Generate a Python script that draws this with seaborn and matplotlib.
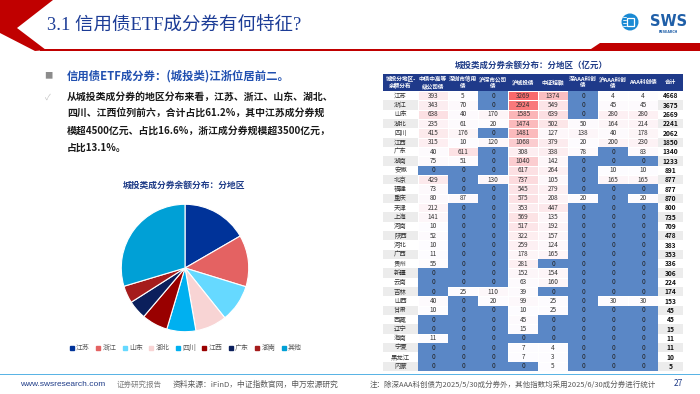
import numpy as np
import pandas as pd
import matplotlib
matplotlib.use("Agg")
import matplotlib.pyplot as plt
import seaborn as sns
from matplotlib.colors import LinearSegmentedColormap, ListedColormap
from matplotlib.patches import Polygon, Rectangle, Circle
from matplotlib.lines import Line2D

sns.set_style("white")
plt.rcParams['font.family'] = ['Noto Sans CJK SC', 'DejaVu Sans']

W, H = 700, 394

# ---- pie data ----
pie_labels = ['江苏', '浙江', '山东', '湖北', '四川', '江西', '广东', '湖南', '其他']
pie_values = [4668, 3675, 2669, 2241, 2062, 1850, 1340, 1233, 8308]
pie_colors = ['#003399', '#e46262', '#66d9ff', '#f8d4d4', '#00b0f0',
              '#990000', '#0b1f5c', '#a51c1c', '#00a0d6']

# ---- table data (亿元) ----
regions = ['江苏', '浙江', '山东', '湖北', '四川', '江西', '广东', '湖南', '安徽', '北京',
           '福建', '重庆', '天津', '上海', '河南', '陕西', '河北', '广西', '贵州', '新疆',
           '云南', '吉林', '山西', '甘肃', '西藏', '辽宁', '海南', '宁夏', '黑龙江', '内蒙']
zz_gsz = [393, 343, 638, 235, 415, 315, 40, 75, 0, 429, 73, 80, 212, 141, 10, 52, 10, 11, 55, 0,
          0, 0, 40, 10, 0, 0, 11, 0, 0, 0]
sz_xyz = [5, 70, 40, 61, 176, 10, 611, 51, 0, 0, 0, 87, 0, 0, 0, 0, 0, 0, 0, 0,
          0, 25, 0, 0, 0, 0, 0, 0, 0, 0]
hs_gsz = [0, 0, 170, 20, 0, 120, 0, 0, 0, 130, 0, 0, 0, 0, 0, 0, 0, 0, 0, 0,
          0, 110, 20, 0, 0, 0, 0, 0, 0, 0]
h_ctz = [3269, 2924, 1585, 1474, 1481, 1068, 308, 1040, 617, 737, 545, 575, 353, 569, 517, 322,
         259, 178, 281, 152, 63, 39, 99, 10, 45, 15, 0, 7, 7, 0]
zz_dr = [1374, 549, 639, 502, 127, 379, 338, 142, 264, 105, 279, 208, 447, 135, 192, 157,
         124, 165, 0, 154, 160, 0, 25, 25, 0, 0, 0, 4, 3, 5]
s_aaa = [0, 0, 0, 50, 138, 20, 78, 0, 0, 0, 0, 20, 0, 0, 0, 0, 0, 0, 0, 0,
         0, 0, 0, 0, 0, 0, 0, 0, 0, 0]
h_aaa = [4, 45, 280, 164, 40, 200, 0, 0, 10, 165, 0, 0, 0, 0, 0, 0, 0, 0, 0, 0,
         0, 0, 30, 0, 0, 0, 0, 0, 0, 0]
aaa = [4, 45, 280, 214, 178, 230, 83, 0, 10, 165, 0, 20, 0, 0, 0, 0, 0, 0, 0, 0,
       0, 0, 30, 0, 0, 0, 0, 0, 0, 0]
totals = [4668, 3675, 2669, 2241, 2062, 1850, 1340, 1233, 891, 877, 877, 870, 800, 735, 709,
          478, 383, 353, 336, 306, 224, 174, 153, 45, 45, 15, 11, 11, 10, 5]
header = ['城投分地区-\n余额分布', '中债中高等\n级公司债', '深圳市信用\n债', '沪深市公司\n债',
          '沪城投债', '中证短融', '深AAA科创\n债', '沪AAA科创\n债', 'AAA科创债', '合计']

df = pd.DataFrame({'a': zz_gsz, 'b': sz_xyz, 'c': hs_gsz, 'd': h_ctz,
                   'e': zz_dr, 'f': s_aaa, 'g': h_aaa, 'h': aaa}, index=regions)


def px_rect(x0, y0, x1, y1):
    return [x0 / W, 1 - y1 / H, (x1 - x0) / W, (y1 - y0) / H]


fig = plt.figure(figsize=(7, 3.94), dpi=100)

# background / decoration layer in pixel coords
bg = fig.add_axes([0, 0, 1, 1])
bg.set_xlim(0, W)
bg.set_ylim(H, 0)
bg.axis('off')

red = '#c00000'
bg.add_patch(Polygon([(0, 0), (53, 0), (17, 28), (46, 50), (35, 51), (0, 33)], color=red, lw=0))
bg.add_patch(Rectangle((40, 49), 660, 2, color=red, lw=0))
bg.add_patch(Polygon([(588, 51), (600, 43), (700, 43), (700, 51)], color=red, lw=0))
bg.text(47, 25, '3.1 信用债ETF成分券有何特征?', fontsize=13.3, color='#1c3c96', va='center',
        family=['Liberation Serif', 'Noto Sans CJK SC'])

# logo
bg.add_patch(Circle((630, 22), 8.5, color='#1a8ad4', lw=0))
bg.add_patch(Rectangle((627, 18), 7, 8, fill=False, ec='white', lw=0.9))
for yy in [17, 20, 23, 26]:
    bg.plot([622.5, 626], [yy, yy], color='white', lw=0.6)
bg.text(650, 21, 'SWS', fontsize=10.5, fontweight='bold', color='#1f5fa8', va='center',
        family='DejaVu Sans')
bg.text(668, 31.5, 'RESEARCH', fontsize=2.3, fontweight='bold', color='#1f5fa8',
        va='center', ha='center', family='DejaVu Sans')

# left text block
bg.text(48, 76, '■', fontsize=6, color='#8c8c8c', va='center', ha='center')
bg.text(67, 76, '信用债ETF成分券：(城投类)江浙位居前二。', fontsize=8.2, fontweight='bold',
        color='#2150b0', va='center')
bg.text(48, 97, '✓', fontsize=6, color='#bfbfbf', va='center', ha='center')
para = ['从城投类成分券的地区分布来看，江苏、浙江、山东、湖北、',
        '四川、江西位列前六，合计占比61.2%，其中江苏成分券规',
        '模超4500亿元、占比16.6%，浙江成分券规模超3500亿元，',
        '占比13.1%。']
for i, line in enumerate(para):
    bg.text(67, 97 + 16.8 * i, line, fontsize=7.1, fontweight='bold', color='#1a1a1a', va='center')

# pie
bg.text(184, 185, '城投类成分券余额分布：分地区', fontsize=6.3, fontweight='bold',
        color='#1f3c88', ha='center', va='center')
ax_p = fig.add_axes(px_rect(120, 203, 250, 333))
ax_p.pie(pie_values, colors=pie_colors, startangle=90, counterclock=False,
         wedgeprops=dict(edgecolor='white', linewidth=0.8))
ax_p.set_xlim(-1.02, 1.02)
ax_p.set_ylim(-1.02, 1.02)
ax_p.set_aspect('equal')
handles = [Line2D([], [], marker='s', ls='none', color=c, markersize=2.6) for c in pie_colors]
fig.legend(handles, pie_labels, loc='center', bbox_to_anchor=(186 / W, 1 - 348 / H), ncol=9,
           frameon=False, fontsize=5, handlelength=0.5, handletextpad=0.4,
           columnspacing=0.9, labelcolor='#595959')

# table
bg.text(531, 65, '城投类成分券余额分布：分地区（亿元）', fontsize=6.1, fontweight='bold',
        color='#1f3c88', ha='center', va='center')
bg.add_patch(Rectangle((383, 74), 300, 17, color='#1f3a8a', lw=0))
col_x = [400.5] + [418 + 30 * (j + 0.5) for j in range(8)] + [670.5]
for x, name in zip(col_x, header):
    bg.text(x, 82.5, name, fontsize=4.1, fontweight='bold', color='white', ha='center',
            va='center', linespacing=1.35)

top, bottom = 91, 371
ax_t = fig.add_axes(px_rect(418, top, 658, bottom))
red_cmap = LinearSegmentedColormap.from_list('wr', ['#fdfcff', '#f8696b'])
sns.heatmap(df, mask=(df == 0), cmap=red_cmap, vmin=0, vmax=df.values.max(), annot=True,
            fmt='d', annot_kws={'size': 4.6, 'color': '#333333'}, cbar=False,
            xticklabels=False, yticklabels=False, linewidths=0.4, linecolor='white', ax=ax_t)
sns.heatmap(df, mask=(df != 0), cmap=ListedColormap(['#5a87c6']), annot=True, fmt='d',
            annot_kws={'size': 4.6, 'color': '#222222'}, cbar=False,
            xticklabels=False, yticklabels=False, ax=ax_t)

stripe = pd.DataFrame({'s': [i % 2 for i in range(len(regions))]})
stripe_cmap = ListedColormap(['#ffffff', '#ececec'])
ax_l = fig.add_axes(px_rect(383, top, 418, bottom))
sns.heatmap(stripe, cmap=stripe_cmap, vmin=0, vmax=1, annot=np.array(regions).reshape(-1, 1),
            fmt='', annot_kws={'size': 4.6, 'color': '#333333'}, cbar=False,
            xticklabels=False, yticklabels=False, ax=ax_l)
ax_s = fig.add_axes(px_rect(658, top, 683, bottom))
sns.heatmap(stripe, cmap=stripe_cmap, vmin=0, vmax=1, annot=np.array(totals).reshape(-1, 1),
            fmt='d', annot_kws={'size': 4.8, 'color': '#111111', 'weight': 'bold'}, cbar=False,
            xticklabels=False, yticklabels=False, ax=ax_s)

# footer
bg.add_patch(Rectangle((0, 373.5), 700, 1.8, color='#5ab4e5', lw=0))
bg.text(20, 385, 'www.swsresearch.com', fontsize=6, color='#1f3c88', va='center',
        family='Liberation Sans')
bg.text(117, 384.5, '证券研究报告', fontsize=5.4, color='#7f7f7f', va='center')
bg.text(173, 385, '资料来源：iFinD，中证指数官网，申万宏源研究', fontsize=5.6, color='#595959',
        va='center')
bg.text(370, 385, '注：除深AAA科创债为2025/5/30成分券外，其他指数均采用2025/6/30成分券进行统计',
        fontsize=5.4, color='#595959', va='center')
bg.text(674, 384, '27', fontsize=6, color='#1f3c88', va='center')

fig.savefig('out.png', dpi=100)
